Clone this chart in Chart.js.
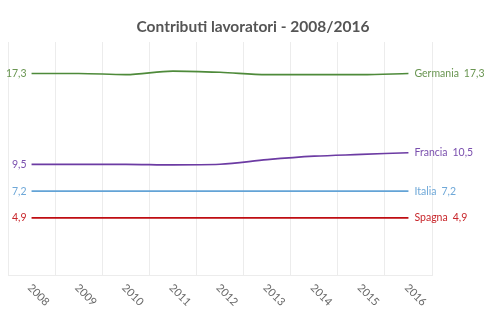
<!DOCTYPE html>
<html>
<head>
<meta charset="utf-8">
<script src="https://cdn.jsdelivr.net/npm/chart.js@4"></script>
<style>
  html, body { margin: 0; padding: 0; background: #fff; }
  #wrap { width: 498px; height: 330px; position: relative; }
</style>
</head>
<body>
<div id="wrap"><canvas id="contribChart"></canvas></div>
<script>
// Data
const years = ['2008', '2009', '2010', '2011', '2012', '2013', '2014', '2015', '2016'];
const countries = ['Germania', 'Francia', 'Italia', 'Spagna'];
const germania = [17.3, 17.3, 17.2, 17.5, 17.4, 17.2, 17.2, 17.2, 17.3];
const francia = [9.5, 9.5, 9.5, 9.45, 9.5, 9.9, 10.2, 10.35, 10.5];
const italia = [7.2, 7.2, 7.2, 7.2, 7.2, 7.2, 7.2, 7.2, 7.2];
const spagna = [4.9, 4.9, 4.9, 4.9, 4.9, 4.9, 4.9, 4.9, 4.9];
const titleText = 'Contributi lavoratori - 2008/2016';

const lineColors = ['#4e8a3a', '#6c3ba3', '#63a3d6', '#bf0d12'];
const textColors = ['#6a9652', '#7a4fae', '#6fa8d8', '#c8262b'];

const fmt = v => v.toFixed(1).replace('.', ',');

// end labels, x labels and title
const labelPlugin = {
    id: 'labelPlugin',
    afterDatasetsDraw(chart) {
        const ctx = chart.ctx;
        ctx.save();
        ctx.font = '10.5px Lato, sans-serif';
        ctx.textBaseline = 'middle';
        chart.data.datasets.forEach((ds, i) => {
            const pts = chart.getDatasetMeta(i).data;
            const first = pts[0], last = pts[pts.length - 1];
            ctx.fillStyle = textColors[i];
            ctx.textAlign = 'right';
            ctx.fillText(fmt(ds.data[0]), first.x - 5, first.y);
            ctx.textAlign = 'left';
            const name = ds.label;
            ctx.fillText(name, last.x + 6, last.y);
            const w = ctx.measureText(name).width;
            ctx.fillText(fmt(ds.data[ds.data.length - 1]), last.x + 6 + w + 5, last.y);
        });

        // rotated year labels
        const xs = chart.scales.x;
        ctx.fillStyle = '#666';
        ctx.font = '11px Lato, sans-serif';
        years.forEach((y, i) => {
            const x = xs.getPixelForValue(i);
            ctx.save();
            ctx.translate(x - 2, chart.chartArea.bottom + 11);
            ctx.rotate(Math.PI / 4);
            ctx.textAlign = 'left';
            ctx.textBaseline = 'middle';
            ctx.fillText(y, 0, 0);
            ctx.restore();
        });

        // title
        ctx.fillStyle = '#555';
        ctx.font = 'bold 15.5px Lato, sans-serif';
        ctx.textAlign = 'center';
        ctx.textBaseline = 'middle';
        ctx.fillText(titleText, 253, 27);
        ctx.restore();
    }
};

const ctx = document.getElementById('contribChart');
new Chart(ctx, {
    type: 'line',
    data: {
        labels: years,
        datasets: [germania, francia, italia, spagna].map((d, i) => ({
            label: countries[i],
            data: d,
            borderColor: lineColors[i],
            backgroundColor: lineColors[i],
            borderWidth: 1.6,
            pointRadius: 0,
            cubicInterpolationMode: 'monotone',
            fill: false
        }))
    },
    options: {
        responsive: true,
        maintainAspectRatio: false,
        animation: false,
        layout: {
            padding: { left: 8, right: 66, top: 42, bottom: 55 }
        },
        plugins: {
            legend: { display: false },
            tooltip: { enabled: false },
            title: { display: false }
        },
        scales: {
            x: {
                offset: true,
                grid: {
                    offset: true,
                    color: '#ececec',
                    drawTicks: false
                },
                border: { color: '#ececec' },
                ticks: { display: false }
            },
            y: {
                display: false,
                min: 0,
                max: 20
            }
        }
    },
    plugins: [labelPlugin]
});
</script>
</body>
</html>
